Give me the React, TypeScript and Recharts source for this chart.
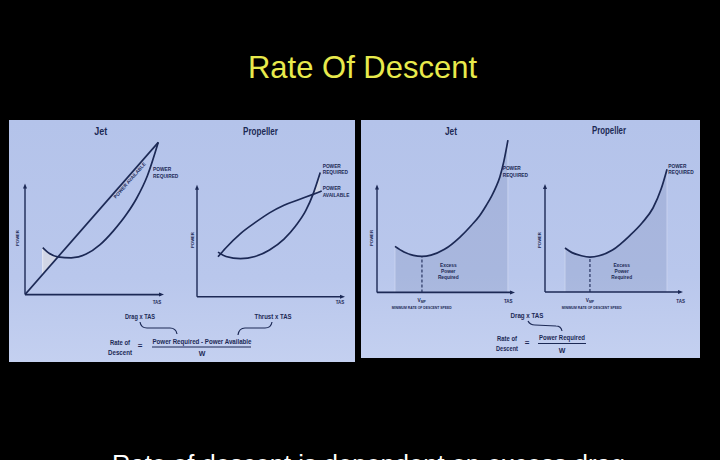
import React from 'react';
import { ComposedChart, Line, Area, XAxis, YAxis, ReferenceLine, ReferenceDot } from 'recharts';

const NAVY = '#1c2955';
const FONT = "'Liberation Sans Narrow', 'Liberation Sans', Arial, sans-serif";

// left panel - jet: power required vs power available (straight line)
const jetTas = [13, 18, 24, 34, 45, 55, 65, 75, 82, 90, 98];
const jetReq = [43.5, 38, 35, 34, 37.5, 46, 59, 75, 89, 110, 141];
const jetAvailTas = [0, 98];
const jetAvail = [0, 141];
const jetGapTas = [13, 18, 24.3];
const jetGapLow = [18.7, 26, 35];
const jetGapHigh = [43.5, 38, 35];

// left panel - propeller
const propTas = [14.5, 20, 30, 40, 50, 60, 68, 75, 80, 85];
const propReq = [41, 37, 35, 37, 43, 53, 65, 79, 94, 114];
const propAvailTas = [14.5, 20, 30, 40, 50, 60, 70, 80, 86];
const propAvail = [36.7, 45, 58, 68, 77, 84, 89, 94, 97];
const propGapTas = [79.5, 82, 85];
const propGapLow = [93.6, 95.5, 97];
const propGapHigh = [93.6, 101, 114];

// right panel - power required only (engine off)
const jet2Tas = [13.3, 20, 27, 33.3, 40, 50, 61.5, 70, 76, 81, 85, 88, 91, 94, 97];
const jet2Req = [43.8, 38.5, 35.3, 34.3, 35.5, 41, 52.7, 64, 73, 83, 92, 100, 110, 125, 145];
const jet2Vmp = 33.3;
const prop2Tas = [14.8, 20, 27, 33.3, 40, 50, 63, 72, 80, 86, 90.4];
const prop2Req = [41.9, 37.5, 34.5, 33.3, 34.5, 40, 54, 66, 80, 98, 117];
const prop2Vmp = 33.3;

const pts = (xs: number[], ys: number[]) => xs.map((tas, i) => ({ tas, p: ys[i] }));
const band = (xs: number[], lo: number[], hi: number[]) =>
  xs.map((tas, i) => ({ tas, band: [lo[i], hi[i]] }));

const M = { top: 14, right: 40, bottom: 24, left: 22 };

function Plot({ ox, oy, sx, sy, yMax, children }: any) {
  const pw = 100 * sx;
  const ph = yMax * sy;
  return (
    <div style={{ position: 'absolute', left: ox - M.left, top: oy - ph - M.top }}>
      <ComposedChart width={pw + M.left + M.right} height={ph + M.top + M.bottom} margin={M}>
        <XAxis type="number" dataKey="tas" domain={[0, 100]} hide allowDataOverflow />
        <YAxis type="number" domain={[0, yMax]} hide allowDataOverflow />
        {children}
      </ComposedChart>
    </div>
  );
}

const arrowRight = (p: any) => (
  <path d={`M${p.cx + 3},${p.cy} L${p.cx - 2},${p.cy - 2} L${p.cx - 2},${p.cy + 2} Z`} fill={NAVY} />
);
const arrowUp = (p: any) => (
  <path d={`M${p.cx},${p.cy - 3} L${p.cx - 2},${p.cy + 2} L${p.cx + 2},${p.cy + 2} Z`} fill={NAVY} />
);

const axes = () => [
  <ReferenceLine key="ax" segment={[{ x: 0, y: 0 }, { x: 100, y: 0 }]} stroke={NAVY} strokeWidth={1.6} />,
  <ReferenceLine key="ay" segment={[{ x: 0, y: 0 }, { x: 0, y: 100 }]} stroke={NAVY} strokeWidth={1.4} />,
  <ReferenceDot key="arx" x={100} y={0} r={2} shape={arrowRight} ifOverflow="visible" />,
  <ReferenceDot key="ary" x={0} y={100} r={2} shape={arrowUp} ifOverflow="visible" />,
];

const curve = (data: any[], type: any = 'monotone') => (
  <Line
    data={data}
    dataKey="p"
    type={type}
    stroke={NAVY}
    strokeWidth={1.7}
    dot={false}
    activeDot={false}
    isAnimationActive={false}
  />
);

function T({ x, y, s, a = 'middle', w, bold = true, fill = NAVY, rot, ff = FONT, children }: any) {
  return (
    <text
      x={x}
      y={y}
      fontSize={s}
      textAnchor={a}
      fontWeight={bold ? 700 : 400}
      fill={fill}
      fontFamily={ff}
      textLength={w}
      lengthAdjust={w ? 'spacingAndGlyphs' : undefined}
      transform={rot ? `rotate(${rot} ${x} ${y})` : undefined}
    >
      {children}
    </text>
  );
}

const panel = (left: number, top: number, width: number, height: number) => (
  <div
    style={{
      position: 'absolute',
      left,
      top,
      width,
      height,
      background: 'linear-gradient(to bottom, #b4c3ea 0%, #b9c7ec 65%, #c4d0f0 100%)',
    }}
  />
);

const Vmp = ({ x, y }: any) => (
  <text x={x} y={y} fontSize={4.8} textAnchor="middle" fontWeight={700} fill={NAVY} fontFamily={FONT}>
    V<tspan fontSize={3.4} dy={1}>MP</tspan>
  </text>
);

export default function App() {
  return (
    <div
      style={{
        position: 'absolute',
        left: 0,
        top: 0,
        width: 720,
        height: 460,
        background: '#000',
        overflow: 'hidden',
      }}
    >
      {panel(9, 120, 346, 242)}
      {panel(361, 120, 339, 238)}

      <Plot ox={25} oy={295} sx={1.36} sy={1.08} yMax={145}>
        <Area
          data={band(jetGapTas, jetGapLow, jetGapHigh)}
          dataKey="band"
          type="monotone"
          stroke="none"
          fill="#d2d7e6"
          fillOpacity={0.95}
          isAnimationActive={false}
        />
        <ReferenceLine segment={[{ x: 13, y: 18.7 }, { x: 13, y: 43.5 }]} stroke="#e6eaf4" strokeWidth={1} />
        {curve(pts(jetAvailTas, jetAvail), 'linear')}
        {curve(pts(jetTas, jetReq))}
        {axes()}
      </Plot>

      <Plot ox={197} oy={297} sx={1.45} sy={1.09} yMax={120}>
        <Area
          data={band(propGapTas, propGapLow, propGapHigh)}
          dataKey="band"
          type="monotone"
          stroke="none"
          fill="#d2d7e6"
          fillOpacity={0.95}
          isAnimationActive={false}
        />
        {curve(pts(propAvailTas, propAvail))}
        {curve(pts(propTas, propReq))}
        {axes()}
      </Plot>

      <Plot ox={377} oy={292} sx={1.35} sy={1.05} yMax={148}>
        <Area
          data={pts(jet2Tas, jet2Req)}
          dataKey="p"
          type="monotone"
          stroke="none"
          fill="#5a6b9a"
          fillOpacity={0.17}
          isAnimationActive={false}
        />
        <ReferenceLine segment={[{ x: jet2Tas[0], y: 0 }, { x: jet2Tas[0], y: jet2Req[0] }]} stroke="#c9d3ef" />
        <ReferenceLine
          segment={[{ x: jet2Tas[jet2Tas.length - 1], y: 0 }, { x: jet2Tas[jet2Tas.length - 1], y: jet2Req[jet2Req.length - 1] }]}
          stroke="#c9d3ef"
        />
        <ReferenceLine segment={[{ x: jet2Vmp, y: 0 }, { x: jet2Vmp, y: 34.3 }]} stroke={NAVY} strokeWidth={1.1} strokeDasharray="3 2" />
        {curve(pts(jet2Tas, jet2Req))}
        {axes()}
      </Plot>

      <Plot ox={545} oy={292} sx={1.35} sy={1.05} yMax={120}>
        <Area
          data={pts(prop2Tas, prop2Req)}
          dataKey="p"
          type="monotone"
          stroke="none"
          fill="#5a6b9a"
          fillOpacity={0.17}
          isAnimationActive={false}
        />
        <ReferenceLine segment={[{ x: prop2Tas[0], y: 0 }, { x: prop2Tas[0], y: prop2Req[0] }]} stroke="#c9d3ef" />
        <ReferenceLine
          segment={[{ x: prop2Tas[prop2Tas.length - 1], y: 0 }, { x: prop2Tas[prop2Tas.length - 1], y: prop2Req[prop2Req.length - 1] }]}
          stroke="#c9d3ef"
        />
        <ReferenceLine segment={[{ x: prop2Vmp, y: 0 }, { x: prop2Vmp, y: 33.3 }]} stroke={NAVY} strokeWidth={1.1} strokeDasharray="3 2" />
        {curve(pts(prop2Tas, prop2Req))}
        {axes()}
      </Plot>

      <svg width={720} height={460} style={{ position: 'absolute', left: 0, top: 0, pointerEvents: 'none' }}>
        <T x={362.5} y={78} s={32} w={229} bold={false} fill="#e8ea4c" ff="'Liberation Sans', Arial, sans-serif">
          Rate Of Descent
        </T>

        {/* left panel */}
        <T x={100.7} y={135} s={10} w={13}>Jet</T>
        <T x={260.5} y={135} s={10} w={35}>Propeller</T>
        <T x={18.8} y={238} s={4.2} rot={-90}>POWER</T>
        <T x={157} y={303.5} s={4.5}>TAS</T>
        <T x={153} y={171} s={4.8} a="start">POWER</T>
        <T x={153} y={177.5} s={4.8} a="start">REQUIRED</T>
        <T x={131} y={181.5} s={4.8} rot={-48.8}>POWER AVAILABLE</T>
        <T x={193.8} y={240} s={4.2} rot={-90}>POWER</T>
        <T x={340} y={303.5} s={4.5}>TAS</T>
        <T x={322.7} y={168.3} s={4.8} a="start">POWER</T>
        <T x={322.7} y={174.3} s={4.8} a="start">REQUIRED</T>
        <T x={322.7} y={190} s={4.8} a="start">POWER</T>
        <T x={322.7} y={196.5} s={4.8} a="start">AVAILABLE</T>

        <T x={140} y={318.5} s={8} w={30}>Drag x TAS</T>
        <T x={273} y={318.5} s={8} w={37}>Thrust x TAS</T>
        <path d="M140 322 Q141 328 147 328 L170 328 Q176 328 177 334" fill="none" stroke={NAVY} strokeWidth={1.2} />
        <path d="M272 322 Q271 328 265 328 L245 328 Q239 328 238 335" fill="none" stroke={NAVY} strokeWidth={1.2} />
        <T x={120} y={345} s={7.5} w={20}>Rate of</T>
        <T x={120} y={354.5} s={7.5} w={24}>Descent</T>
        <T x={140} y={348} s={8}>=</T>
        <T x={202} y={344} s={7.5} w={99}>Power Required - Power Available</T>
        <line x1={152} x2={251} y1={347} y2={347} stroke={NAVY} strokeWidth={1.2} />
        <T x={202} y={355.5} s={7}>W</T>

        {/* right panel */}
        <T x={451} y={135} s={10} w={12}>Jet</T>
        <T x={609} y={134} s={10} w={34}>Propeller</T>
        <T x={373.2} y={238} s={4.2} rot={-90}>POWER</T>
        <T x={508.3} y={302.5} s={4.5}>TAS</T>
        <Vmp x={421.7} y={301.5} />
        <T x={421.7} y={309} s={4} w={60}>MINIMUM RATE OF DESCENT SPEED</T>
        <T x={502.7} y={170} s={4.8} a="start">POWER</T>
        <T x={502.7} y={176.5} s={4.8} a="start">REQUIRED</T>
        <T x={448.3} y={266.5} s={4.8}>Excess</T>
        <T x={448.3} y={272.5} s={4.8}>Power</T>
        <T x={448.3} y={278.5} s={4.8}>Required</T>

        <T x={540.8} y={240} s={4.2} rot={-90}>POWER</T>
        <T x={680.7} y={302.5} s={4.5}>TAS</T>
        <Vmp x={590} y={301.5} />
        <T x={591.7} y={309} s={4} w={60}>MINIMUM RATE OF DESCENT SPEED</T>
        <T x={668.3} y={167.5} s={4.8} a="start">POWER</T>
        <T x={668.3} y={173.5} s={4.8} a="start">REQUIRED</T>
        <T x={621.7} y={267} s={4.8}>Excess</T>
        <T x={621.7} y={273} s={4.8}>Power</T>
        <T x={621.7} y={279} s={4.8}>Required</T>

        <T x={527} y={318} s={8} w={33}>Drag x TAS</T>
        <path d="M528 321 Q530 325 535 325 L556 326 Q561 326 562 331" fill="none" stroke={NAVY} strokeWidth={1.2} />
        <T x={507} y={341} s={7.5} w={20}>Rate of</T>
        <T x={507} y={350.5} s={7.5} w={22}>Descent</T>
        <T x={527} y={345} s={8}>=</T>
        <T x={562} y={340} s={7.5} w={46}>Power Required</T>
        <line x1={538} x2={586} y1={343.5} y2={343.5} stroke={NAVY} strokeWidth={1.2} />
        <T x={562} y={352.5} s={7}>W</T>

        <T x={112} y={473} s={26} a="start" w={513} bold={false} fill="#ffffff" ff="'Liberation Sans', Arial, sans-serif">
          Rate of descent is dependent on excess drag
        </T>
      </svg>
    </div>
  );
}
